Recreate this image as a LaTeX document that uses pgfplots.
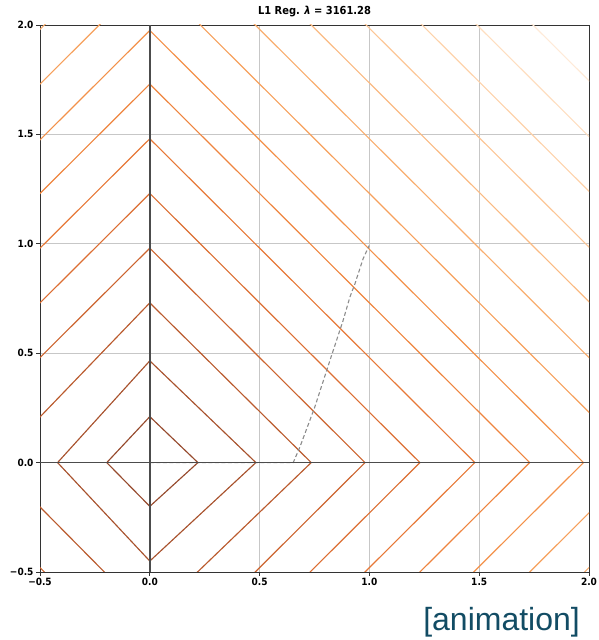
\documentclass[border=0pt]{standalone}
\usepackage{pgfplots}
\pgfplotsset{compat=1.18}
\usepackage{fontspec}
\setmainfont{DejaVu Sans}
\newfontfamily\tickfont{DejaVu Sans Condensed}
\newfontfamily\animfont{Liberation Sans}
\definecolor{l0}{RGB}{150,74,45}
\definecolor{l1}{RGB}{168,82,45}
\definecolor{l2}{RGB}{186,90,45}
\definecolor{l3}{RGB}{204,100,47}
\definecolor{l4}{RGB}{220,110,50}
\definecolor{l5}{RGB}{231,120,55}
\definecolor{l6}{RGB}{238,132,62}
\definecolor{l7}{RGB}{243,145,74}
\definecolor{l8}{RGB}{246,160,92}
\definecolor{l9}{RGB}{248,173,110}
\definecolor{l10}{RGB}{250,186,130}
\definecolor{l11}{RGB}{252,198,150}
\definecolor{l12}{RGB}{253,210,170}
\definecolor{l13}{RGB}{254,222,192}
\definecolor{l14}{RGB}{254,234,216}
\definecolor{anim}{RGB}{18,76,100}
\begin{document}
\begin{tikzpicture}
\useasboundingbox (-40pt,-68pt) rectangle (558pt,572pt);
\begin{axis}[
  at={(0pt,0pt)}, anchor=south west,
  scale only axis, width=549pt, height=547pt,
  xmin=-0.5, xmax=2, ymin=-0.5, ymax=2,
  xtick={-0.5,0,0.5,1,1.5,2}, ytick={-0.5,0,0.5,1,1.5,2},
  xtick pos=bottom, ytick pos=left,
  xticklabels={−0.5,0.0,0.5,1.0,1.5,2.0},
  yticklabels={−0.5,0.0,0.5,1.0,1.5,2.0},
  ticklabel style={font=\tickfont\bfseries\fontsize{10}{10}\selectfont},
  xticklabel style={yshift=1pt},
  yticklabel style={xshift=1pt},
  grid=major, grid style={color=black!22, line width=0.8pt},
  axis line style={color=black!80, line width=0.9pt},
  tick style={color=black!80, line width=0.8pt},
  tick align=outside, major tick length=4pt,
  title={L1 Reg. {\itshape λ} = 3161.28},
  title style={font=\tickfont\bfseries\fontsize{11}{11}\selectfont, at={(0.5,1)}, anchor=south, yshift=0pt, inner sep=2pt},
  every axis plot/.append style={line width=1.15pt},
]
\addplot[l14] coordinates {(3.745,0)(0,3.745)(-3.745,0)(0,-3.745)(3.745,0)};
\addplot[l13] coordinates {(3.49,0)(0,3.49)(-3.49,0)(0,-3.49)(3.49,0)};
\addplot[l12] coordinates {(3.24,0)(0,3.24)(-3.24,0)(0,-3.24)(3.24,0)};
\addplot[l11] coordinates {(2.985,0)(0,2.985)(-2.985,0)(0,-2.985)(2.985,0)};
\addplot[l10] coordinates {(2.735,0)(0,2.735)(-2.735,0)(0,-2.735)(2.735,0)};
\addplot[l9] coordinates {(2.48,0)(0,2.48)(-2.48,0)(0,-2.48)(2.48,0)};
\addplot[l8] coordinates {(2.23,0)(0,2.23)(-2.23,0)(0,-2.23)(2.23,0)};
\addplot[l7] coordinates {(1.975,0)(0,1.975)(-1.975,0)(0,-1.975)(1.975,0)};
\addplot[l6] coordinates {(1.73,0)(0,1.73)(-1.73,0)(0,-1.73)(1.73,0)};
\addplot[l5] coordinates {(1.48,0)(0,1.48)(-1.48,0)(0,-1.48)(1.48,0)};
\addplot[l4] coordinates {(1.23,0)(0,1.23)(-1.23,0)(0,-1.23)(1.23,0)};
\addplot[l3] coordinates {(0.98,0)(0,0.98)(-0.98,0)(0,-0.98)(0.98,0)};
\addplot[l2] coordinates {(0.735,0)(0,0.73)(-0.70,0)(0,-0.71)(0.735,0)};
\addplot[l1] coordinates {(0.483,0)(0,0.465)(-0.42,0)(0,-0.45)(0.483,0)};
\addplot[l0] coordinates {(0.219,0)(0,0.21)(-0.196,0)(0,-0.20)(0.219,0)};
\addplot[color=black!45, dash pattern=on 4pt off 2.5pt, line width=1.1pt] coordinates {
  (0,0)(0.653,0)(0.683,0.070)(0.751,0.253)(0.820,0.466)(0.880,0.649)(0.911,0.756)(0.934,0.817)(0.971,0.931)(0.999,0.992)};
\addplot[color=black!70, line width=1.5pt] coordinates {(-0.5,0)(2,0)};
\addplot[color=black!70, line width=1.5pt] coordinates {(0,-0.5)(0,2)};
\end{axis}
\node[anchor=base east, font=\animfont\fontsize{32}{32}\selectfont, text=anim, inner sep=0pt] at (540pt,-58pt) {[animation]};
\end{tikzpicture}
\end{document}
